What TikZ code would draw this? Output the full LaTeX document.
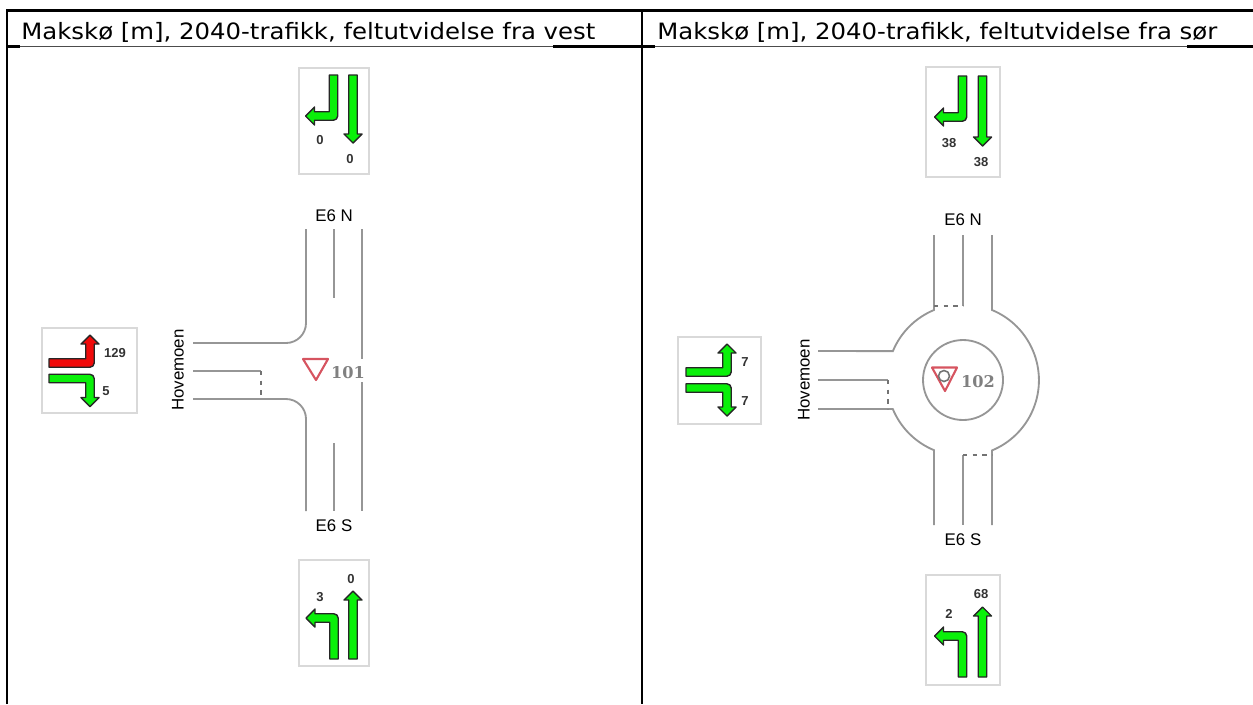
\documentclass[tikz,border=0pt]{standalone}
\usepackage{fontspec}
\setmainfont{DejaVu Sans}
\newfontfamily\headfont[FakeStretch=1.084]{DejaVu Sans}
\newfontfamily\labelfont{Liberation Sans}
\newfontfamily\idfont{DejaVu Serif}
\usepackage{tikz}
\usetikzlibrary{positioning}
\definecolor{lanegreen}{RGB}{10,240,10}
\definecolor{lanered}{RGB}{240,10,10}
\definecolor{roadgrey}{RGB}{150,150,150}
\definecolor{signred}{RGB}{214,84,96}
\tikzset{
    rule/.style={line width=1.3pt},
    thinrule/.style={line width=0.5pt,black!70},
    panel/.style={draw=black!15,line width=0.8pt},
    road/.style={roadgrey,line width=1.05pt},
    stopline/.style={black!55,line width=1.5pt,dash pattern=on 2.5pt off 3pt},
    lanearrow/.style={draw=black!85,line width=0.8pt,fill=lanegreen,line join=round},
    yield/.style={signred,line width=1.2pt,line join=round},
    header/.style={anchor=base west,inner sep=0pt,font=\headfont\fontsize{12.8}{15}\selectfont},
    count/.style={font=\labelfont\bfseries\fontsize{7.4}{9}\selectfont,black!80},
    roadname/.style={font=\labelfont\fontsize{9.6}{11}\selectfont},
    sideroad/.style={roadname,rotate=90},
    junction/.style={font=\idfont\bfseries\fontsize{9.2}{11}\selectfont,black!50},
    pics/turnlane/.style={code={
        \path[pic actions] (0,-4.25) -- (36.75,-4.25) -- (36.75,-19) -- (32,-19) -- (41,-28) -- (50,-19) -- (45.25,-19)
            [rounded corners=2.5pt] -- (45.25,4.25) [sharp corners] -- (0,4.25) -- cycle;
    }},
    pics/straightlane/.style={code={
        \path[pic actions] (0,-4.25) -- (#1-9,-4.25) -- (#1-9,-9) -- (#1,0) -- (#1-9,9) -- (#1-9,4.25) -- (0,4.25) -- cycle;
    }},
}
\begin{document}
\begin{tikzpicture}[x=0.02cm,y=-0.02cm]
    \useasboundingbox (0,0) rectangle (1253,704);
    % table
    \draw[rule] (7,704)--(7,10.5)--(1253,10.5);
    \draw[rule] (642,10.5)--(642,704);
    \draw[thinrule] (7,46.5)--(1253,46.5);
    \draw[rule] (7,46.5)--(20,46.5);
    \draw[rule] (553,46.5)--(655,46.5);
    \draw[rule] (1187,46.5)--(1253,46.5);
    \node[header] (head1) at (21,39) {Makskø [m], 2040-trafikk, feltutvidelse fra vest};
    \node[header] (head2) at (657,39) {Makskø [m], 2040-trafikk, feltutvidelse fra sør};

    % left: panels
    \node[panel,minimum width=70*0.02cm,minimum height=106*0.02cm] (panelN) at (334,121) {};
    \pic[lanearrow,rotate=-90,yscale=-1] at (333.5,75) {turnlane};
    \pic[lanearrow,rotate=-90] at (353,75) {straightlane=68};
    \node[count] (countNa) at (320,140) {0};
    \node[count] (countNb) at (350,159) {0};
    \node[panel,minimum width=95*0.02cm,minimum height=85*0.02cm] (panelW) at (89.5,370.5) {};
    \pic[lanearrow,fill=lanered] at (49,363) {turnlane};
    \pic[lanearrow,yscale=-1] at (49,378.5) {turnlane};
    \node[count] (countWa) at (115,353) {129};
    \node[count] (countWb) at (106,391) {5};
    \node[panel,minimum width=70*0.02cm,minimum height=106*0.02cm] (panelS) at (334,613) {};
    \pic[lanearrow,rotate=90] at (334,659) {turnlane};
    \pic[lanearrow,rotate=90] at (353,659) {straightlane=68};
    \node[count] (countSa) at (320,597) {3};
    \node[count] (countSb) at (351,579) {0};

    % left: T junction
    \draw[road] (306,229)--(306,323) arc (0:90:20)--(193,343);
    \draw[road] (334,229)--(334,298);
    \draw[road] (362,229)--(362,359);
    \draw[road] (362,382)--(362,511);
    \draw[road] (193,371)--(261,371);
    \draw[road] (193,399)--(286,399) arc (-90:0:20)--(306,511);
    \draw[road] (334,443)--(334,511);
    \draw[stopline] (261,371)--(261,399);
    \node[roadname] (northL) at (334,216) {E6 N};
    \node[roadname] (southL) at (334,526) {E6 S};
    \node[sideroad] (westL) at (178,370) {Hovemoen};
    \draw[yield] (303,359)--(328,359)--(316,380)--cycle;
    \node[junction] (idL) at (348,373) {101};

    % right: panels
    \node[panel,minimum width=74*0.02cm,minimum height=110*0.02cm] (panelNR) at (963,122) {};
    \pic[lanearrow,rotate=-90,yscale=-1] at (962.5,76) {turnlane};
    \pic[lanearrow,rotate=-90] at (982.5,76) {straightlane=70};
    \node[count] (countNRa) at (949,143) {38};
    \node[count] (countNRb) at (981,162) {38};
    \node[panel,minimum width=83*0.02cm,minimum height=87*0.02cm] (panelWR) at (719.5,380.5) {};
    \pic[lanearrow] at (686,372) {turnlane};
    \pic[lanearrow,yscale=-1] at (686,388) {turnlane};
    \node[count] (countWRa) at (745,362) {7};
    \node[count] (countWRb) at (745,401) {7};
    \node[panel,minimum width=74*0.02cm,minimum height=110*0.02cm] (panelSR) at (963,630) {};
    \pic[lanearrow,rotate=90] at (962.5,677) {turnlane};
    \pic[lanearrow,rotate=90] at (982.5,677) {straightlane=70};
    \node[count] (countSRa) at (949,614) {2};
    \node[count] (countSRb) at (981,594) {68};

    % right: roundabout
    \draw[road] (963,380) circle (40);
    \draw[road] (934,235)--(934,310) arc (247.5:202.5:76)--(818,351);
    \draw[road] (963,235)--(963,306);
    \draw[road] (992,235)--(992,310) arc (-67.5:67.5:76)--(992,525);
    \draw[road] (818,380)--(888,380);
    \draw[road] (818,409)--(892.8,409) arc (157.5:112.5:76)--(934,525);
    \draw[road] (963,455)--(963,525);
    \draw[stopline] (934,306)--(963,306);
    \draw[stopline] (888,380)--(888,409);
    \draw[stopline] (963,455)--(992,455);
    \node[roadname] (northR) at (963,220) {E6 N};
    \node[roadname] (southR) at (963,540) {E6 S};
    \node[sideroad] (westR) at (804,380) {Hovemoen};
    \draw[yield] (932,367.5)--(957,367.5)--(945,391)--cycle;
    \draw[black!55,line width=0.9pt] (944,376) circle (5.5);
    \node[junction] (idR) at (978,382) {102};
\end{tikzpicture}
\end{document}
